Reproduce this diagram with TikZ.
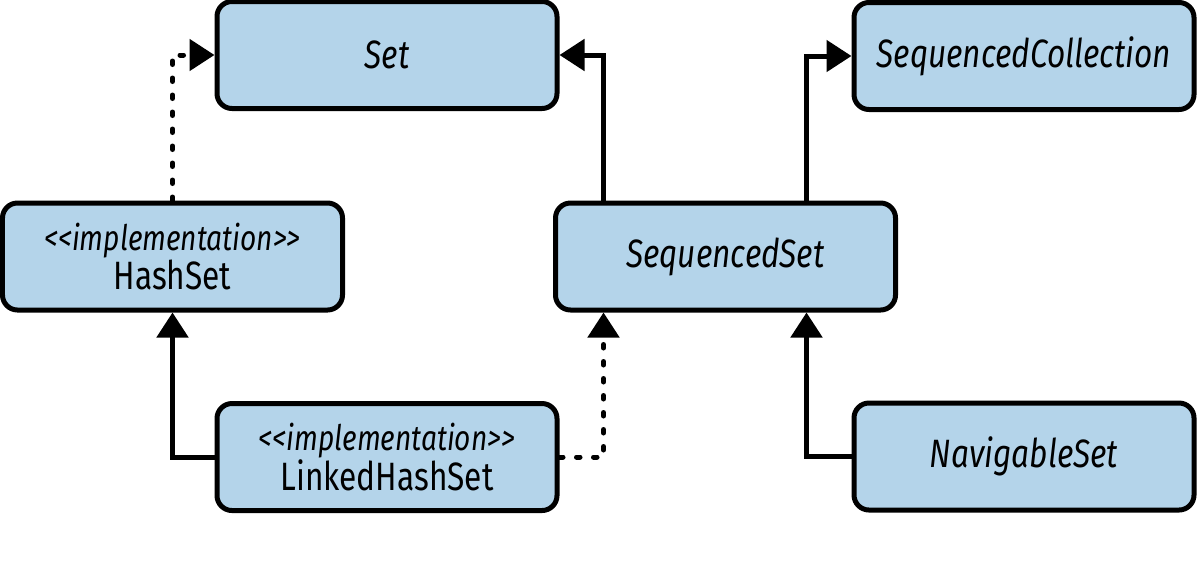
\documentclass[tikz,border=0pt]{standalone}
\usepackage{fontspec}
\setmainfont{Fira Sans}[FakeStretch=0.8]
\usepackage{tikz}
\usetikzlibrary{arrows.meta, positioning, calc}
\usepackage{xcolor}
\definecolor{setblue}{RGB}{180,212,234}
\newcommand{\stereo}[1]{{\fontsize{20pt}{15pt}\selectfont\itshape #1}}

\begin{document}
\begin{tikzpicture}[
    iface/.style={rectangle, rounded corners=0.3cm, draw=black, line width=0.1cm, fill=setblue,
                  minimum height=2.14cm, minimum width=6.8cm, align=center,
                  font=\fontsize{22.5pt}{15pt}\selectfont\itshape},
    impl/.style={iface, font=\fontsize{22.5pt}{15pt}\selectfont},
    arr/.style={-{Triangle[length=0.5cm, width=0.62cm]}, line width=0.1cm},
    dotarr/.style={arr, line cap=round, dash pattern=on 0.07cm off 0.27cm},
]
    \useasboundingbox (0,0) rectangle (23.94,-11.68);

    \node[iface] (set) at (7.74,-1.1) {Set};
    \node[iface] (seqcoll) at (20.48,-1.12) {SequencedCollection};
    \node[impl] (hash) at (3.45,-5.13) {\stereo{<{}<implementation>{}>}\\HashSet};
    \node[iface] (seqset) at (14.51,-5.13) {SequencedSet};
    \node[impl] (linked) at (7.74,-9.14) {\stereo{<{}<implementation>{}>}\\LinkedHashSet};
    \node[iface] (nav) at (20.48,-9.13) {NavigableSet};

    % vertical runs beside the middle column
    \coordinate (jl) at ($(set.east)+(0.88,0)$);
    \coordinate (jr) at ($(seqcoll.west)+(-0.9,0)$);

    \draw[dotarr] (hash.north) |- (set.west);
    \draw[arr] (seqset.north -| jl) |- (set.east);
    \draw[arr] (seqset.north -| jr) |- (seqcoll.west);
    \draw[arr] (linked.west) -| (hash.south);
    \draw[dotarr] (linked.east) -| (seqset.south -| jl);
    \draw[arr] (nav.west) -| (seqset.south -| jr);
\end{tikzpicture}
\end{document}
